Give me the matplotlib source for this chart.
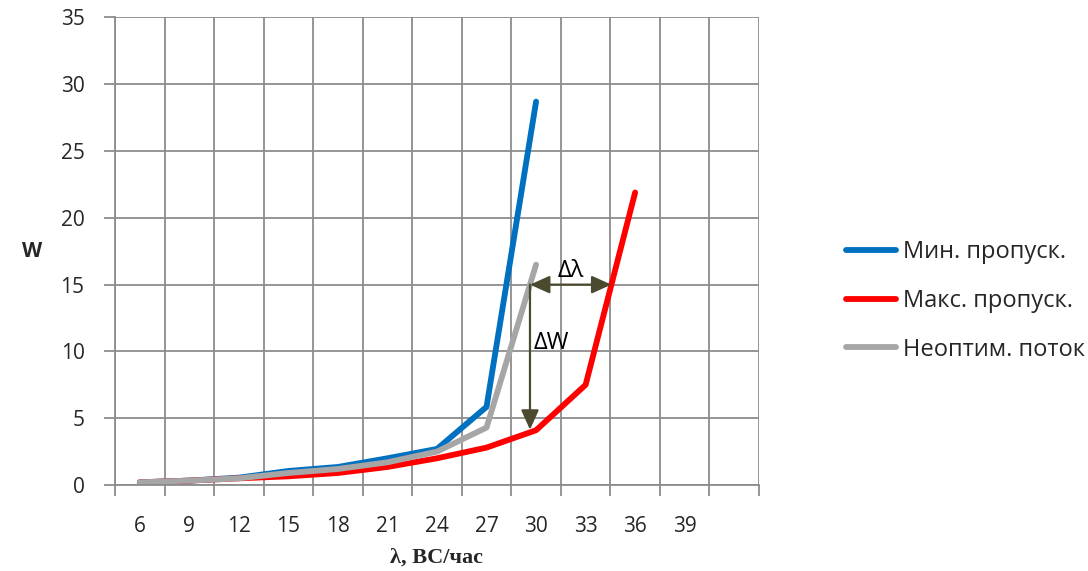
import numpy as np
import matplotlib.pyplot as plt

# categories on the x axis (last slot has no label, as in the original sheet)
lam_labels = ['6', '9', '12', '15', '18', '21', '24', '27', '30', '33', '36', '39', '']

# W values
w_min = [0.2, 0.33, 0.55, 1.05, 1.35, 2.0, 2.7, 5.85, 28.7]
w_max = [0.2, 0.33, 0.5, 0.65, 0.9, 1.35, 2.0, 2.8, 4.1, 7.5, 21.9]
w_neopt = [0.2, 0.33, 0.5, 0.9, 1.2, 1.7, 2.5, 4.3, 16.5]

LEVEL = 15  # W level for the delta-lambda arrow

BLUE = '#0070C0'
RED = '#FF0000'
GRAY = '#A6A6A6'
GRID = '#8C8C8C'
ARROW = '#4B4A2E'
TXT = '#262626'
SANS = 'Open Sans'
LW = 4.2

fig = plt.figure(figsize=(10.88, 5.71), dpi=100)
ax = fig.add_axes([0.1057, 0.1506, 0.5919, 0.8188])

style = dict(lw=LW, solid_capstyle='round', solid_joinstyle='round')
ax.plot(np.arange(len(w_min)), w_min, color=BLUE, label='Мин. пропуск.', **style)
ax.plot(np.arange(len(w_max)), w_max, color=RED, label='Макс. пропуск.', **style)
ax.plot(np.arange(len(w_neopt)), w_neopt, color=GRAY, label='Неоптим. поток', **style)

# where the grey and red curves cross the W = 15 level
x_gray = np.interp(LEVEL, w_neopt[7:9], [7, 8])
x_red = np.interp(LEVEL, w_max[9:11], [9, 10])
w_red_at = np.interp(x_gray, [7, 8], w_max[7:9])

head = '<|-|>,head_length=0.6,head_width=0.27'
ax.annotate('', xy=(x_red, LEVEL), xytext=(x_gray, LEVEL),
            arrowprops=dict(arrowstyle=head, color=ARROW, lw=1.6,
                            mutation_scale=20, shrinkA=0, shrinkB=0))
ax.annotate('', xy=(x_gray, w_red_at + 0.2), xytext=(x_gray, LEVEL),
            arrowprops=dict(arrowstyle=head.replace('<|-|>', '-|>'), color=ARROW,
                            lw=1.6, mutation_scale=20, shrinkA=0, shrinkB=0))
ax.text((x_gray + x_red) / 2, LEVEL + 0.1, 'Δλ', ha='center', va='bottom',
        fontsize=17, family=SANS, color='black')
ax.text(x_gray + 0.08, 10.6, 'ΔW', ha='left', va='center',
        fontsize=17, family=SANS, color='black')

n = len(lam_labels)
ax.set_xlim(-0.5, n - 0.5)
ax.set_ylim(0, 35)
ax.set_xticks(np.arange(n + 1) - 0.5)
ax.set_xticklabels([])
ax.set_xticks(np.arange(n), minor=True)
ax.set_xticklabels(lam_labels, minor=True)
ax.set_yticks(np.arange(0, 36, 5))

ax.grid(True, which='major', color=GRID, lw=1.3)
ax.set_axisbelow(True)
for s in ['top', 'right']:
    ax.spines[s].set_visible(False)
for s in ['left', 'bottom']:
    ax.spines[s].set_color(GRID)
    ax.spines[s].set_linewidth(1.3)

ax.tick_params(axis='x', which='major', length=8, width=1.3, color=GRID)
ax.tick_params(axis='x', which='minor', length=0, pad=22, labelsize=15,
               labelcolor=TXT)
ax.tick_params(axis='y', length=8, width=1.3, color=GRID, labelsize=15,
               labelcolor=TXT, pad=14)
for lab in ax.get_xticklabels(minor=True) + ax.get_yticklabels():
    lab.set_family(SANS)

ax.set_xlabel('λ, ВС/час', family='Liberation Serif', fontweight='bold',
              fontsize=16, color=TXT, labelpad=8)
fig.text(0.02, 0.56, 'W', family=SANS, fontweight='bold', fontsize=15,
         color=TXT, ha='left', va='center')

leg = fig.legend(loc='center left', bbox_to_anchor=(0.778, 0.473), frameon=False,
                 prop={'family': SANS, 'size': 17}, handlelength=2.1,
                 handletextpad=0.3, labelspacing=1.05, borderpad=0,
                 borderaxespad=0)
for t in leg.get_texts():
    t.set_color(TXT)
for h in leg.get_lines():
    h.set_linewidth(LW)
    h.set_solid_capstyle('round')

fig.savefig('out.png', dpi=100)
